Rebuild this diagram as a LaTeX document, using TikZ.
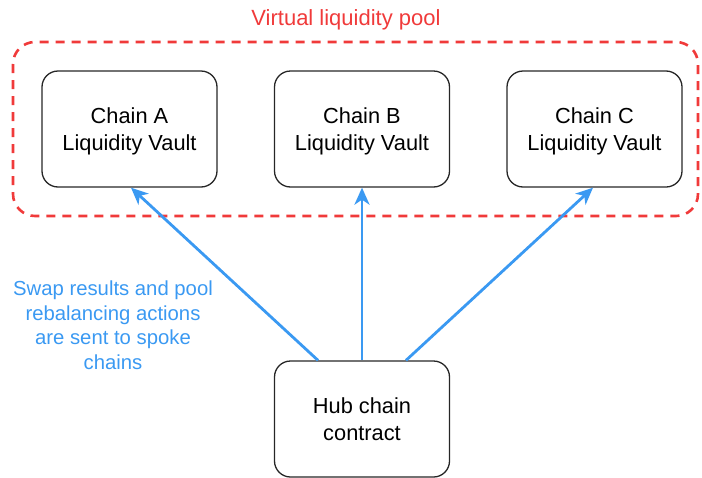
\documentclass[tikz,border=0pt]{standalone}
\usepackage{fontspec}
\setmainfont{Liberation Sans}
\usetikzlibrary{arrows.meta,positioning}
\definecolor{poolred}{HTML}{F03A3A}
\definecolor{msgblue}{HTML}{3A99F2}
\tikzset{
    vault/.style={draw=black!85, line width=1.3pt, rounded corners=16pt,
        minimum width=175pt, minimum height=116pt, align=center, text depth=0pt,
        font=\fontsize{21.8}{26.5}\selectfont},
    msg/.style={draw=msgblue, line width=2.8pt,
        -{Stealth[length=17pt,width=15pt,inset=5pt]}}
}

\begin{document}
\begin{tikzpicture}[x=1pt, y=-1pt]
    \useasboundingbox (0, 0) rectangle (702, 477);

    % virtual pool
    \draw[poolred, line width=2.6pt, dash pattern=on 9pt off 7pt, rounded corners=22pt]
        (13, 42) rectangle (698, 216);
    \node[text=poolred, font=\fontsize{22}{24}\selectfont] (title) at (346, 20) {Virtual liquidity pool};

    \node[vault] (vaultA) at (129.5, 129) {Chain A\\Liquidity Vault};
    \node[vault] (vaultB) at (362, 129) {Chain B\\Liquidity Vault};
    \node[vault] (vaultC) at (594.5, 129) {Chain C\\Liquidity Vault};

    \node[vault] (hub) at (362, 419) {Hub chain\\contract};

    \draw[msg] (hub.north) ++(-44, 0) coordinate (hubA) (hubA) -- (vaultA.south -| 131, 0);
    \draw[msg] (hub.north) -- (vaultB.south);
    \draw[msg] (hub.north) ++(44, 0) coordinate (hubC) (hubC) -- (vaultC.south -| 593, 0);

    \node[text=msgblue, align=center, font=\fontsize{20.3}{24.5}\selectfont] (note) at (113, 325)
        {Swap results and pool\\rebalancing actions\\are sent to spoke\\chains};
\end{tikzpicture}
\end{document}
